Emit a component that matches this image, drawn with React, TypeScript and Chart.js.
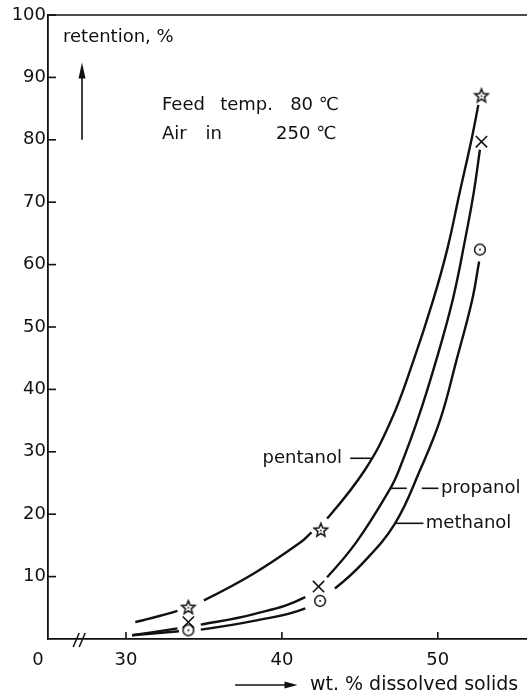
import React, { useEffect, useRef } from 'react';
import { Chart, registerables } from 'chart.js';

Chart.register(...registerables);

const INK = '#111111';
const FONT = '"DejaVu Sans", "Liberation Sans", sans-serif';

// axes
const xMin = 25;
const xMax = 55.72;
const yMin = 0;
const yMax = 100;
const xTickValues = [30, 40, 50];
const yTickValues = [10, 20, 30, 40, 50, 60, 70, 80, 90, 100];
const xOriginLabel = '0';
const xBreakAt = 27.0;
const xAxisTitle = 'wt. % dissolved solids';
const yAxisTitle = 'retention, %';
const conditionRow1 = ['Feed', 'temp.', '80 ℃'];
const conditionRow2 = ['Air', 'in', '250 ℃'];

// series names
const seriesNames = ['pentanol', 'propanol', 'methanol'];

// measured points (markers)
const pentanolX = [34.0, 42.5, 52.8];
const pentanolY = [5.1, 17.5, 87.1];
const propanolX = [34.0, 42.35, 52.8];
const propanolY = [2.7, 8.4, 79.7];
const methanolX = [34.0, 42.45, 52.7];
const methanolY = [1.4, 6.1, 62.4];

// drawn curves, gaps = hidden segment start indices
const pentanolCurveX = [30.6, 33.3, 35.0, 38.2, 41.2, 41.9, 42.9, 45.3, 47.0, 48.45, 49.7, 50.6, 51.4, 52.2, 52.6];
const pentanolCurveY = [2.7, 4.5, 6.2, 10.5, 15.5, 17.1, 19.3, 27.0, 35.0, 44.7, 54.3, 62.4, 71.5, 80.5, 85.6];
const pentanolGaps = [1, 5];
const propanolCurveX = [30.4, 33.3, 34.8, 38.2, 41.5, 42.9, 44.8, 46.95, 47.5, 48.7, 49.9, 50.95, 51.75, 52.3, 52.7];
const propanolCurveY = [0.6, 1.7, 2.3, 4.0, 6.7, 9.9, 15.6, 24.1, 27.0, 35.1, 44.7, 54.3, 64.0, 71.5, 78.4];
const propanolGaps = [1, 4];
const methanolCurveX = [30.4, 33.4, 34.8, 38.2, 41.5, 43.4, 45.2, 47.25, 48.85, 50.15, 51.2, 52.2, 52.65];
const methanolCurveY = [0.6, 1.25, 1.5, 2.9, 4.9, 8.1, 12.2, 18.5, 27.0, 35.1, 44.7, 54.3, 60.5];
const methanolGaps = [1, 4];

const toPts = (xs: number[], ys: number[]) => xs.map((x, i) => ({ x, y: ys[i] }));

function makeStar(): HTMLCanvasElement {
  const c = document.createElement('canvas');
  c.width = 18;
  c.height = 18;
  const g = c.getContext('2d')!;
  g.beginPath();
  for (let i = 0; i < 10; i++) {
    const r = i % 2 === 0 ? 7.0 : 3.1;
    const a = -Math.PI / 2 + (i * Math.PI) / 5;
    const X = 9 + r * Math.cos(a);
    const Y = 9.6 + r * Math.sin(a);
    if (i === 0) g.moveTo(X, Y);
    else g.lineTo(X, Y);
  }
  g.closePath();
  g.fillStyle = '#fff';
  g.fill();
  g.lineWidth = 1.5;
  g.strokeStyle = INK;
  g.stroke();
  g.beginPath();
  g.arc(9, 9.6, 0.9, 0, Math.PI * 2);
  g.fillStyle = INK;
  g.fill();
  return c;
}

function makeRing(): HTMLCanvasElement {
  const c = document.createElement('canvas');
  c.width = 16;
  c.height = 16;
  const g = c.getContext('2d')!;
  g.beginPath();
  g.arc(8, 8, 5.4, 0, Math.PI * 2);
  g.fillStyle = '#fff';
  g.fill();
  g.lineWidth = 1.5;
  g.strokeStyle = INK;
  g.stroke();
  g.beginPath();
  g.arc(8, 8, 1, 0, Math.PI * 2);
  g.fillStyle = INK;
  g.fill();
  return c;
}

const decorPlugin = {
  id: 'decor',
  afterDraw(chart: any) {
    const { ctx, chartArea: ca, scales } = chart;
    const xs = scales.x;
    const ys = scales.y;
    const px = (v: number) => xs.getPixelForValue(v);
    const py = (v: number) => ys.getPixelForValue(v);
    ctx.save();
    ctx.strokeStyle = INK;
    ctx.fillStyle = INK;
    const seg = (x1: number, y1: number, x2: number, y2: number, w = 1.7) => {
      ctx.lineWidth = w;
      ctx.beginPath();
      ctx.moveTo(x1, y1);
      ctx.lineTo(x2, y2);
      ctx.stroke();
    };
    const text = (s: string, x: number, y: number, align = 'left', size = 18) => {
      ctx.font = `${size}px ${FONT}`;
      ctx.textAlign = align;
      ctx.textBaseline = 'middle';
      ctx.fillText(s, x, y);
    };
    // top frame
    seg(ca.left - 1, ca.top, ca.right, ca.top, 1.7);
    // inward ticks
    yTickValues.forEach((v) => seg(ca.left, py(v), ca.left + 8, py(v), 1.6));
    xTickValues.forEach((v) => seg(px(v), ca.bottom, px(v), ca.bottom - 7, 1.6));
    // axis break marks
    const bx = px(xBreakAt);
    seg(bx - 6, ca.bottom + 8, bx, ca.bottom - 6, 1.5);
    seg(bx, ca.bottom + 8, bx + 6, ca.bottom - 6, 1.5);
    // origin label
    text(xOriginLabel, ca.left - 10, ca.bottom + 21, 'center');
    // x-axis title with arrow
    const ty = ca.bottom + 46;
    const a1 = px(37.0);
    const a2 = px(41.0);
    seg(a1, ty, a2 - 10, ty, 1.6);
    ctx.beginPath();
    ctx.moveTo(a2, ty);
    ctx.lineTo(a2 - 13, ty - 3.5);
    ctx.lineTo(a2 - 13, ty + 3.5);
    ctx.closePath();
    ctx.fill();
    text(xAxisTitle, px(41.8), ty, 'left', 19);
    // y-axis title with up arrow
    text(yAxisTitle, ca.left + 15, py(96.5));
    const ux = ca.left + 34;
    const tip = py(92.4);
    seg(ux, py(80), ux, tip + 10, 1.6);
    ctx.beginPath();
    ctx.moveTo(ux, tip);
    ctx.lineTo(ux - 3.5, tip + 16);
    ctx.lineTo(ux + 3.5, tip + 16);
    ctx.closePath();
    ctx.fill();
    // conditions
    const r1y = py(85.6);
    const r2y = py(80.8);
    text(conditionRow1[0], px(32.31), r1y);
    text(conditionRow1[1], px(36.04), r1y);
    text(conditionRow1[2], px(40.53), r1y);
    text(conditionRow2[0], px(32.31), r2y);
    text(conditionRow2[1], px(35.1), r2y);
    text(conditionRow2[2], px(39.63), r2y);
    // series labels with leaders
    const pY = py(28.96);
    text(seriesNames[0], px(43.85), pY, 'right');
    seg(px(44.38), pY, px(45.77), pY, 1.6);
    const prY = py(24.15);
    seg(px(46.94), prY, px(48.01), prY, 1.6);
    seg(px(48.97), prY, px(50.04), prY, 1.6);
    text(seriesNames[1], px(50.21), prY);
    const mY = py(18.54);
    seg(px(47.26), mY, px(49.08), mY, 1.6);
    text(seriesNames[2], px(49.23), mY);
    ctx.restore();
  },
};

export default function App() {
  const ref = useRef<HTMLCanvasElement>(null);
  useEffect(() => {
    const star = makeStar();
    const ring = makeRing();
    const curve = (xs: number[], ys: number[], gaps: number[]) => ({
      data: toPts(xs, ys),
      showLine: true,
      borderColor: INK,
      borderWidth: 2.4,
      pointRadius: 0,
      tension: 0.4,
      segment: {
        borderColor: (c: any) => (gaps.includes(c.p0DataIndex) ? 'rgba(0,0,0,0)' : INK),
      },
      order: 3,
    });
    const chart = new Chart(ref.current!, {
      type: 'scatter',
      data: {
        datasets: [
          curve(pentanolCurveX, pentanolCurveY, pentanolGaps),
          curve(propanolCurveX, propanolCurveY, propanolGaps),
          curve(methanolCurveX, methanolCurveY, methanolGaps),
          {
            label: seriesNames[0],
            data: toPts(pentanolX, pentanolY),
            pointStyle: star,
            pointRadius: 7,
            order: 1,
          },
          {
            label: seriesNames[1],
            data: toPts(propanolX, propanolY),
            pointStyle: 'crossRot',
            pointRadius: 8,
            borderColor: INK,
            pointBorderColor: INK,
            borderWidth: 1.6,
            pointBorderWidth: 1.6,
            order: 1,
          },
          {
            label: seriesNames[2],
            data: toPts(methanolX, methanolY),
            pointStyle: ring,
            pointRadius: 7,
            order: 1,
          },
        ] as any,
      },
      options: {
        responsive: false,
        animation: false,
        events: [],
        layout: { autoPadding: false, padding: { top: 15, left: 0, right: 0, bottom: 0 } },
        plugins: { legend: { display: false }, tooltip: { enabled: false } },
        scales: {
          x: {
            type: 'linear',
            min: xMin,
            max: xMax,
            afterBuildTicks: (s: any) => {
              s.ticks = xTickValues.map((v) => ({ value: v }));
            },
            afterFit: (s: any) => {
              s.height = 56;
              s.paddingLeft = 0;
              s.paddingRight = 0;
            },
            ticks: {
              autoSkip: false,
              maxRotation: 0,
              padding: 11,
              color: INK,
              font: { family: FONT, size: 18 },
            },
            grid: { display: false, drawTicks: false },
            border: { display: true, color: INK, width: 1.8 },
          },
          y: {
            type: 'linear',
            min: yMin,
            max: yMax,
            afterBuildTicks: (s: any) => {
              s.ticks = yTickValues.map((v) => ({ value: v }));
            },
            afterFit: (s: any) => {
              s.width = 48;
              s.paddingTop = 0;
              s.paddingBottom = 0;
            },
            ticks: {
              autoSkip: false,
              padding: 2,
              color: INK,
              font: { family: FONT, size: 18 },
            },
            grid: { display: false, drawTicks: false },
            border: { display: true, color: INK, width: 1.8 },
          },
        },
      } as any,
      plugins: [decorPlugin],
    });
    return () => chart.destroy();
  }, []);
  return (
    <div style={{ position: 'absolute', left: 0, top: 0, width: 527, height: 695, background: '#fff' }}>
      <canvas ref={ref} width={527} height={695} style={{ display: 'block', width: 527, height: 695 }} />
    </div>
  );
}
